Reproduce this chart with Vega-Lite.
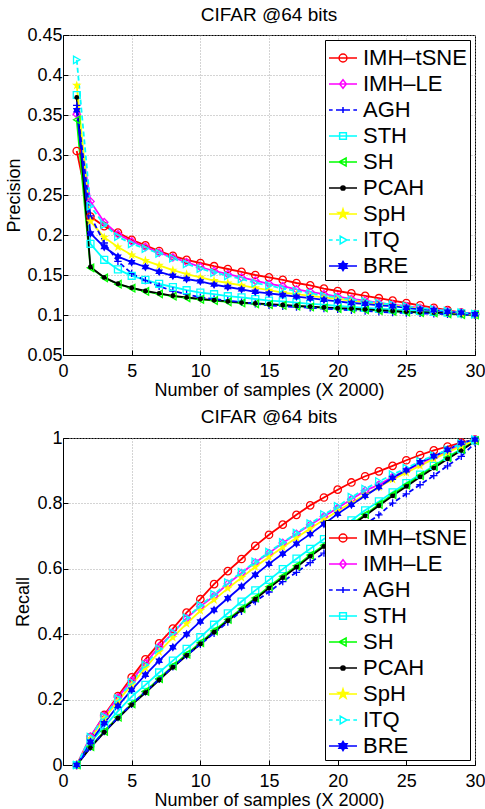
{
"$schema":"https://vega.github.io/schema/vega-lite/v6.json",
"background":"white",
"padding":{"left":5,"top":5,"right":0,"bottom":0},
"config":{
 "font":"Liberation Sans",
 "view":{"stroke":"black","strokeWidth":1},
 "axis":{"labelFont":"Liberation Sans","labelFontSize":18,"labelColor":"black","titleFont":"Liberation Sans","titleFontSize":18,"titleFontWeight":"normal","titleColor":"black","domainColor":"black","tickColor":"black","tickSize":-5,"labelPadding":9,"grid":true,"gridColor":"#a8a8a8","gridDash":[1,2],"gridOpacity":1,"labelFlush":false,"labelOverlap":false},
 "axisX":{"titlePadding":1,"labelPadding":12},
 "axisY":{"titlePadding":3,"labelPadding":6},
 "title":{"font":"Liberation Sans","fontSize":19,"fontWeight":"normal","color":"black","anchor":"middle"},
 "legend":{"labelFont":"Liberation Sans","labelFontSize":22,"labelColor":"black","symbolSize":784,"padding":3,"rowPadding":0,"labelOffset":5,"strokeColor":"black","fillColor":"white","labelLimit":0,"symbolStrokeWidth":1.5,"symbolOpacity":1}
},
"data":{"values":[
{"m":"IMH–tSNE","x":1,"p":0.305,"r":0},{"m":"IMH–tSNE","x":2,"p":0.223,"r":0.085},{"m":"IMH–tSNE","x":3,"p":0.211,"r":0.153},{"m":"IMH–tSNE","x":4,"p":0.203,"r":0.211},{"m":"IMH–tSNE","x":5,"p":0.194,"r":0.268},{"m":"IMH–tSNE","x":6,"p":0.187,"r":0.323},{"m":"IMH–tSNE","x":7,"p":0.18,"r":0.372},{"m":"IMH–tSNE","x":8,"p":0.174,"r":0.417},{"m":"IMH–tSNE","x":9,"p":0.169,"r":0.466},{"m":"IMH–tSNE","x":10,"p":0.165,"r":0.507},{"m":"IMH–tSNE","x":11,"p":0.161,"r":0.553},{"m":"IMH–tSNE","x":12,"p":0.1575,"r":0.593},{"m":"IMH–tSNE","x":13,"p":0.154,"r":0.63},{"m":"IMH–tSNE","x":14,"p":0.15,"r":0.67},{"m":"IMH–tSNE","x":15,"p":0.147,"r":0.704},{"m":"IMH–tSNE","x":16,"p":0.144,"r":0.735},{"m":"IMH–tSNE","x":17,"p":0.14,"r":0.765},{"m":"IMH–tSNE","x":18,"p":0.137,"r":0.794},{"m":"IMH–tSNE","x":19,"p":0.133,"r":0.818},{"m":"IMH–tSNE","x":20,"p":0.13,"r":0.842},{"m":"IMH–tSNE","x":21,"p":0.127,"r":0.864},{"m":"IMH–tSNE","x":22,"p":0.124,"r":0.883},{"m":"IMH–tSNE","x":23,"p":0.121,"r":0.898},{"m":"IMH–tSNE","x":24,"p":0.118,"r":0.915},{"m":"IMH–tSNE","x":25,"p":0.115,"r":0.932},{"m":"IMH–tSNE","x":26,"p":0.112,"r":0.948},{"m":"IMH–tSNE","x":27,"p":0.109,"r":0.962},{"m":"IMH–tSNE","x":28,"p":0.106,"r":0.974},{"m":"IMH–tSNE","x":29,"p":0.103,"r":0.986},{"m":"IMH–tSNE","x":30,"p":0.101,"r":0.995},
{"m":"IMH–LE","x":1,"p":0.351,"r":0},{"m":"IMH–LE","x":2,"p":0.242,"r":0.087},{"m":"IMH–LE","x":3,"p":0.216,"r":0.15},{"m":"IMH–LE","x":4,"p":0.201,"r":0.207},{"m":"IMH–LE","x":5,"p":0.192,"r":0.258},{"m":"IMH–LE","x":6,"p":0.185,"r":0.311},{"m":"IMH–LE","x":7,"p":0.178,"r":0.362},{"m":"IMH–LE","x":8,"p":0.172,"r":0.403},{"m":"IMH–LE","x":9,"p":0.166,"r":0.449},{"m":"IMH–LE","x":10,"p":0.16,"r":0.485},{"m":"IMH–LE","x":11,"p":0.155,"r":0.517},{"m":"IMH–LE","x":12,"p":0.151,"r":0.554},{"m":"IMH–LE","x":13,"p":0.147,"r":0.587},{"m":"IMH–LE","x":14,"p":0.143,"r":0.619},{"m":"IMH–LE","x":15,"p":0.139,"r":0.648},{"m":"IMH–LE","x":16,"p":0.136,"r":0.679},{"m":"IMH–LE","x":17,"p":0.132,"r":0.707},{"m":"IMH–LE","x":18,"p":0.129,"r":0.735},{"m":"IMH–LE","x":19,"p":0.126,"r":0.76},{"m":"IMH–LE","x":20,"p":0.123,"r":0.786},{"m":"IMH–LE","x":21,"p":0.12,"r":0.813},{"m":"IMH–LE","x":22,"p":0.118,"r":0.839},{"m":"IMH–LE","x":23,"p":0.115,"r":0.857},{"m":"IMH–LE","x":24,"p":0.113,"r":0.881},{"m":"IMH–LE","x":25,"p":0.111,"r":0.901},{"m":"IMH–LE","x":26,"p":0.109,"r":0.921},{"m":"IMH–LE","x":27,"p":0.107,"r":0.942},{"m":"IMH–LE","x":28,"p":0.105,"r":0.959},{"m":"IMH–LE","x":29,"p":0.103,"r":0.98},{"m":"IMH–LE","x":30,"p":0.101,"r":0.995},
{"m":"AGH","x":1,"p":0.362,"r":0},{"m":"AGH","x":2,"p":0.224,"r":0.055},{"m":"AGH","x":3,"p":0.19,"r":0.102},{"m":"AGH","x":4,"p":0.167,"r":0.145},{"m":"AGH","x":5,"p":0.152,"r":0.186},{"m":"AGH","x":6,"p":0.143,"r":0.224},{"m":"AGH","x":7,"p":0.136,"r":0.262},{"m":"AGH","x":8,"p":0.13,"r":0.3},{"m":"AGH","x":9,"p":0.126,"r":0.335},{"m":"AGH","x":10,"p":0.122,"r":0.369},{"m":"AGH","x":11,"p":0.12,"r":0.403},{"m":"AGH","x":12,"p":0.118,"r":0.437},{"m":"AGH","x":13,"p":0.116,"r":0.47},{"m":"AGH","x":14,"p":0.114,"r":0.5},{"m":"AGH","x":15,"p":0.112,"r":0.529},{"m":"AGH","x":16,"p":0.111,"r":0.561},{"m":"AGH","x":17,"p":0.11,"r":0.589},{"m":"AGH","x":18,"p":0.109,"r":0.619},{"m":"AGH","x":19,"p":0.108,"r":0.648},{"m":"AGH","x":20,"p":0.107,"r":0.679},{"m":"AGH","x":21,"p":0.106,"r":0.709},{"m":"AGH","x":22,"p":0.105,"r":0.735},{"m":"AGH","x":23,"p":0.104,"r":0.765},{"m":"AGH","x":24,"p":0.103,"r":0.801},{"m":"AGH","x":25,"p":0.1025,"r":0.829},{"m":"AGH","x":26,"p":0.102,"r":0.857},{"m":"AGH","x":27,"p":0.1015,"r":0.885},{"m":"AGH","x":28,"p":0.101,"r":0.915},{"m":"AGH","x":29,"p":0.1005,"r":0.944},{"m":"AGH","x":30,"p":0.1,"r":0.985},
{"m":"STH","x":1,"p":0.375,"r":0},{"m":"STH","x":2,"p":0.189,"r":0.068},{"m":"STH","x":3,"p":0.169,"r":0.117},{"m":"STH","x":4,"p":0.157,"r":0.165},{"m":"STH","x":5,"p":0.149,"r":0.209},{"m":"STH","x":6,"p":0.144,"r":0.245},{"m":"STH","x":7,"p":0.139,"r":0.283},{"m":"STH","x":8,"p":0.135,"r":0.319},{"m":"STH","x":9,"p":0.131,"r":0.355},{"m":"STH","x":10,"p":0.128,"r":0.391},{"m":"STH","x":11,"p":0.126,"r":0.429},{"m":"STH","x":12,"p":0.1235,"r":0.464},{"m":"STH","x":13,"p":0.122,"r":0.5},{"m":"STH","x":14,"p":0.12,"r":0.534},{"m":"STH","x":15,"p":0.118,"r":0.566},{"m":"STH","x":16,"p":0.117,"r":0.599},{"m":"STH","x":17,"p":0.1155,"r":0.631},{"m":"STH","x":18,"p":0.114,"r":0.661},{"m":"STH","x":19,"p":0.113,"r":0.691},{"m":"STH","x":20,"p":0.1115,"r":0.719},{"m":"STH","x":21,"p":0.11,"r":0.748},{"m":"STH","x":22,"p":0.109,"r":0.779},{"m":"STH","x":23,"p":0.108,"r":0.806},{"m":"STH","x":24,"p":0.107,"r":0.834},{"m":"STH","x":25,"p":0.106,"r":0.862},{"m":"STH","x":26,"p":0.105,"r":0.888},{"m":"STH","x":27,"p":0.104,"r":0.915},{"m":"STH","x":28,"p":0.103,"r":0.942},{"m":"STH","x":29,"p":0.102,"r":0.966},{"m":"STH","x":30,"p":0.101,"r":0.993},
{"m":"SH","x":1,"p":0.344,"r":0},{"m":"SH","x":2,"p":0.159,"r":0.056},{"m":"SH","x":3,"p":0.1465,"r":0.103},{"m":"SH","x":4,"p":0.1385,"r":0.146},{"m":"SH","x":5,"p":0.1335,"r":0.187},{"m":"SH","x":6,"p":0.1295,"r":0.225},{"m":"SH","x":7,"p":0.1265,"r":0.264},{"m":"SH","x":8,"p":0.1235,"r":0.303},{"m":"SH","x":9,"p":0.1215,"r":0.339},{"m":"SH","x":10,"p":0.1195,"r":0.374},{"m":"SH","x":11,"p":0.118,"r":0.41},{"m":"SH","x":12,"p":0.1165,"r":0.445},{"m":"SH","x":13,"p":0.115,"r":0.478},{"m":"SH","x":14,"p":0.114,"r":0.511},{"m":"SH","x":15,"p":0.113,"r":0.545},{"m":"SH","x":16,"p":0.112,"r":0.577},{"m":"SH","x":17,"p":0.111,"r":0.609},{"m":"SH","x":18,"p":0.11,"r":0.642},{"m":"SH","x":19,"p":0.109,"r":0.672},{"m":"SH","x":20,"p":0.108,"r":0.703},{"m":"SH","x":21,"p":0.1075,"r":0.736},{"m":"SH","x":22,"p":0.1065,"r":0.766},{"m":"SH","x":23,"p":0.1055,"r":0.797},{"m":"SH","x":24,"p":0.1045,"r":0.827},{"m":"SH","x":25,"p":0.1035,"r":0.856},{"m":"SH","x":26,"p":0.103,"r":0.885},{"m":"SH","x":27,"p":0.1025,"r":0.912},{"m":"SH","x":28,"p":0.1015,"r":0.94},{"m":"SH","x":29,"p":0.1005,"r":0.965},{"m":"SH","x":30,"p":0.1,"r":0.992},
{"m":"PCAH","x":1,"p":0.372,"r":0},{"m":"PCAH","x":2,"p":0.16,"r":0.053},{"m":"PCAH","x":3,"p":0.147,"r":0.1},{"m":"PCAH","x":4,"p":0.139,"r":0.143},{"m":"PCAH","x":5,"p":0.134,"r":0.184},{"m":"PCAH","x":6,"p":0.13,"r":0.221},{"m":"PCAH","x":7,"p":0.127,"r":0.26},{"m":"PCAH","x":8,"p":0.124,"r":0.299},{"m":"PCAH","x":9,"p":0.122,"r":0.335},{"m":"PCAH","x":10,"p":0.12,"r":0.37},{"m":"PCAH","x":11,"p":0.1185,"r":0.406},{"m":"PCAH","x":12,"p":0.117,"r":0.441},{"m":"PCAH","x":13,"p":0.1155,"r":0.474},{"m":"PCAH","x":14,"p":0.1145,"r":0.507},{"m":"PCAH","x":15,"p":0.1135,"r":0.541},{"m":"PCAH","x":16,"p":0.1125,"r":0.573},{"m":"PCAH","x":17,"p":0.1115,"r":0.605},{"m":"PCAH","x":18,"p":0.1105,"r":0.638},{"m":"PCAH","x":19,"p":0.1095,"r":0.668},{"m":"PCAH","x":20,"p":0.1085,"r":0.699},{"m":"PCAH","x":21,"p":0.108,"r":0.732},{"m":"PCAH","x":22,"p":0.107,"r":0.762},{"m":"PCAH","x":23,"p":0.106,"r":0.793},{"m":"PCAH","x":24,"p":0.105,"r":0.823},{"m":"PCAH","x":25,"p":0.104,"r":0.852},{"m":"PCAH","x":26,"p":0.1035,"r":0.881},{"m":"PCAH","x":27,"p":0.103,"r":0.908},{"m":"PCAH","x":28,"p":0.102,"r":0.936},{"m":"PCAH","x":29,"p":0.101,"r":0.962},{"m":"PCAH","x":30,"p":0.1005,"r":0.99},
{"m":"SpH","x":1,"p":0.387,"r":0},{"m":"SpH","x":2,"p":0.217,"r":0.08},{"m":"SpH","x":3,"p":0.197,"r":0.142},{"m":"SpH","x":4,"p":0.185,"r":0.196},{"m":"SpH","x":5,"p":0.175,"r":0.245},{"m":"SpH","x":6,"p":0.168,"r":0.297},{"m":"SpH","x":7,"p":0.162,"r":0.346},{"m":"SpH","x":8,"p":0.156,"r":0.39},{"m":"SpH","x":9,"p":0.151,"r":0.432},{"m":"SpH","x":10,"p":0.147,"r":0.472},{"m":"SpH","x":11,"p":0.143,"r":0.505},{"m":"SpH","x":12,"p":0.14,"r":0.54},{"m":"SpH","x":13,"p":0.137,"r":0.573},{"m":"SpH","x":14,"p":0.134,"r":0.606},{"m":"SpH","x":15,"p":0.131,"r":0.636},{"m":"SpH","x":16,"p":0.128,"r":0.666},{"m":"SpH","x":17,"p":0.126,"r":0.695},{"m":"SpH","x":18,"p":0.124,"r":0.723},{"m":"SpH","x":19,"p":0.122,"r":0.75},{"m":"SpH","x":20,"p":0.12,"r":0.777},{"m":"SpH","x":21,"p":0.118,"r":0.802},{"m":"SpH","x":22,"p":0.116,"r":0.826},{"m":"SpH","x":23,"p":0.114,"r":0.85},{"m":"SpH","x":24,"p":0.112,"r":0.873},{"m":"SpH","x":25,"p":0.11,"r":0.894},{"m":"SpH","x":26,"p":0.108,"r":0.915},{"m":"SpH","x":27,"p":0.106,"r":0.936},{"m":"SpH","x":28,"p":0.104,"r":0.956},{"m":"SpH","x":29,"p":0.102,"r":0.975},{"m":"SpH","x":30,"p":0.1005,"r":0.993},
{"m":"ITQ","x":1,"p":0.419,"r":0},{"m":"ITQ","x":2,"p":0.236,"r":0.085},{"m":"ITQ","x":3,"p":0.213,"r":0.148},{"m":"ITQ","x":4,"p":0.198,"r":0.203},{"m":"ITQ","x":5,"p":0.189,"r":0.253},{"m":"ITQ","x":6,"p":0.183,"r":0.306},{"m":"ITQ","x":7,"p":0.177,"r":0.355},{"m":"ITQ","x":8,"p":0.171,"r":0.405},{"m":"ITQ","x":9,"p":0.164,"r":0.45},{"m":"ITQ","x":10,"p":0.158,"r":0.488},{"m":"ITQ","x":11,"p":0.153,"r":0.522},{"m":"ITQ","x":12,"p":0.149,"r":0.558},{"m":"ITQ","x":13,"p":0.145,"r":0.59},{"m":"ITQ","x":14,"p":0.14,"r":0.621},{"m":"ITQ","x":15,"p":0.137,"r":0.651},{"m":"ITQ","x":16,"p":0.133,"r":0.681},{"m":"ITQ","x":17,"p":0.13,"r":0.709},{"m":"ITQ","x":18,"p":0.127,"r":0.738},{"m":"ITQ","x":19,"p":0.124,"r":0.766},{"m":"ITQ","x":20,"p":0.122,"r":0.791},{"m":"ITQ","x":21,"p":0.119,"r":0.819},{"m":"ITQ","x":22,"p":0.117,"r":0.844},{"m":"ITQ","x":23,"p":0.115,"r":0.867},{"m":"ITQ","x":24,"p":0.113,"r":0.888},{"m":"ITQ","x":25,"p":0.111,"r":0.908},{"m":"ITQ","x":26,"p":0.109,"r":0.929},{"m":"ITQ","x":27,"p":0.107,"r":0.946},{"m":"ITQ","x":28,"p":0.105,"r":0.964},{"m":"ITQ","x":29,"p":0.103,"r":0.983},{"m":"ITQ","x":30,"p":0.101,"r":0.995},
{"m":"BRE","x":1,"p":0.356,"r":0},{"m":"BRE","x":2,"p":0.202,"r":0.071},{"m":"BRE","x":3,"p":0.185,"r":0.128},{"m":"BRE","x":4,"p":0.173,"r":0.181},{"m":"BRE","x":5,"p":0.166,"r":0.23},{"m":"BRE","x":6,"p":0.16,"r":0.276},{"m":"BRE","x":7,"p":0.154,"r":0.319},{"m":"BRE","x":8,"p":0.149,"r":0.36},{"m":"BRE","x":9,"p":0.145,"r":0.4},{"m":"BRE","x":10,"p":0.142,"r":0.439},{"m":"BRE","x":11,"p":0.138,"r":0.474},{"m":"BRE","x":12,"p":0.135,"r":0.51},{"m":"BRE","x":13,"p":0.132,"r":0.546},{"m":"BRE","x":14,"p":0.129,"r":0.582},{"m":"BRE","x":15,"p":0.127,"r":0.615},{"m":"BRE","x":16,"p":0.125,"r":0.646},{"m":"BRE","x":17,"p":0.123,"r":0.677},{"m":"BRE","x":18,"p":0.121,"r":0.706},{"m":"BRE","x":19,"p":0.119,"r":0.737},{"m":"BRE","x":20,"p":0.117,"r":0.768},{"m":"BRE","x":21,"p":0.115,"r":0.796},{"m":"BRE","x":22,"p":0.114,"r":0.823},{"m":"BRE","x":23,"p":0.112,"r":0.85},{"m":"BRE","x":24,"p":0.111,"r":0.878},{"m":"BRE","x":25,"p":0.109,"r":0.901},{"m":"BRE","x":26,"p":0.107,"r":0.926},{"m":"BRE","x":27,"p":0.106,"r":0.944},{"m":"BRE","x":28,"p":0.104,"r":0.964},{"m":"BRE","x":29,"p":0.103,"r":0.985},{"m":"BRE","x":30,"p":0.101,"r":0.995}
]},
"columns":1,
"spacing":7,
"resolve":{"scale":{"x":"independent","y":"independent","color":"independent","shape":"independent","fill":"independent"}},
"concat":[
{
 "width":412,"height":320,
 "title":{"text":"CIFAR @64 bits","offset":1},
 "encoding":{
  "x":{"field":"x","type":"quantitative","scale":{"domain":[0,30],"nice":false},"axis":{"values":[0,5,10,15,20,25,30],"title":"Number of samples (X 2000)"}},
  "y":{"field":"p","type":"quantitative","scale":{"domain":[0.05,0.45],"nice":false,"zero":false},"axis":{"values":[0.05,0.1,0.15,0.2,0.25,0.3,0.35,0.4,0.45],"format":".2~f","title":"Precision"}}
 },
 "layer":[
  {"transform":[{"filter":"datum.m !== 'AGH' && datum.m !== 'ITQ'"}],"mark":{"type":"line","strokeWidth":1.8},
   "encoding":{"color":{"field":"m","type":"nominal","scale":{"domain":["IMH–tSNE","IMH–LE","AGH","STH","SH","PCAH","SpH","ITQ","BRE"],"range":["#ff0000","#ff00ff","#0000ff","#00ffff","#00ff00","#000000","#ffff00","#00ffff","#0000ff"]},"legend":{"title":null,"orient":"top-right","offset":5}}}},
  {"transform":[{"filter":"datum.m === 'AGH' || datum.m === 'ITQ'"}],"mark":{"type":"line","strokeWidth":1.8,"strokeDash":[5,3]},
   "encoding":{"color":{"field":"m","type":"nominal","scale":{"domain":["IMH–tSNE","IMH–LE","AGH","STH","SH","PCAH","SpH","ITQ","BRE"],"range":["#ff0000","#ff00ff","#0000ff","#00ffff","#00ff00","#000000","#ffff00","#00ffff","#0000ff"]},"legend":{"title":null,"orient":"top-right","offset":5}}}},
  {"transform":[{"filter":"datum.m === 'IMH–tSNE'"}],"mark":{"type":"point","shape":"circle","color":"#ff0000","filled":false,"size":55,"strokeWidth":1.3,"opacity":1}},
  {"transform":[{"filter":"datum.m === 'IMH–LE'"}],"mark":{"type":"point","shape":"diamond","color":"#ff00ff","filled":false,"size":55,"strokeWidth":1.3,"opacity":1}},
  {"transform":[{"filter":"datum.m === 'AGH'"}],"mark":{"type":"point","shape":"M-1,0L1,0M0,-1L0,1","color":"#0000ff","filled":false,"size":55,"strokeWidth":1.3,"opacity":1}},
  {"transform":[{"filter":"datum.m === 'STH'"}],"mark":{"type":"point","shape":"square","color":"#00ffff","filled":false,"size":48,"strokeWidth":1.3,"opacity":1}},
  {"transform":[{"filter":"datum.m === 'SH'"}],"mark":{"type":"point","shape":"triangle-left","color":"#00ff00","filled":false,"size":55,"strokeWidth":1.3,"opacity":1}},
  {"transform":[{"filter":"datum.m === 'PCAH'"}],"mark":{"type":"point","shape":"circle","color":"#000000","filled":true,"size":24,"opacity":1}},
  {"transform":[{"filter":"datum.m === 'SpH'"}],"mark":{"type":"point","shape":"M0,-1.35L0.303,-0.417L1.284,-0.417L0.49,0.159L0.794,1.092L0,0.516L-0.794,1.092L-0.49,0.159L-1.284,-0.417L-0.303,-0.417Z","color":"#ffff00","filled":true,"size":55,"opacity":1}},
  {"transform":[{"filter":"datum.m === 'ITQ'"}],"mark":{"type":"point","shape":"triangle-right","color":"#00ffff","filled":false,"size":55,"strokeWidth":1.3,"opacity":1}},
  {"transform":[{"filter":"datum.m === 'BRE'"}],"mark":{"type":"point","shape":"M0,-1.2L0.346,-0.6L1.039,-0.6L0.693,0L1.039,0.6L0.346,0.6L0,1.2L-0.346,0.6L-1.039,0.6L-0.693,0L-1.039,-0.6L-0.346,-0.6Z","color":"#0000ff","filled":true,"size":55,"opacity":1}},
  {"mark":{"type":"point","opacity":0,"size":784,"strokeWidth":1.5,"filled":false},
   "encoding":{
    "color":{"field":"m","type":"nominal","scale":{"domain":["IMH–tSNE","IMH–LE","AGH","STH","SH","PCAH","SpH","ITQ","BRE"],"range":["#ff0000","#ff00ff","#0000ff","#00ffff","#00ff00","#000000","#ffff00","#00ffff","#0000ff"]},"legend":{"title":null,"orient":"top-right","offset":5}},
    "shape":{"field":"m","type":"nominal","scale":{"domain":["IMH–tSNE","IMH–LE","AGH","STH","SH","PCAH","SpH","ITQ","BRE"],"range":["M-1,0L1,0M-0.28,0A0.28,0.28 0 1,1 0.28,0A0.28,0.28 0 1,1 -0.28,0","M-1,0L1,0M0,-0.3L0.24,0L0,0.3L-0.24,0Z","M-1,0L-0.74,0M-0.5,0L-0.22,0M0.22,0L0.5,0M0.74,0L1,0M-0.22,0L0.22,0M0,-0.22L0,0.22","M-1,0L1,0M-0.24,-0.24L0.24,-0.24L0.24,0.24L-0.24,0.24Z","M-1,0L1,0M-0.28,0L0.22,-0.28L0.22,0.28Z","M-1,0L1,0M-0.15,0A0.15,0.15 0 1,1 0.15,0A0.15,0.15 0 1,1 -0.15,0Z","M-1,0L1,0M0,-0.36L0.081,-0.111L0.342,-0.111L0.131,0.043L0.212,0.291L0,0.138L-0.212,0.291L-0.131,0.043L-0.342,-0.111L-0.081,-0.111Z","M-1,0L-0.74,0M-0.5,0L-0.28,0M0.3,0L0.5,0M0.74,0L1,0M-0.2,-0.28L0.28,0L-0.2,0.28Z","M-1,0L1,0M0,-0.33L0.095,-0.165L0.286,-0.165L0.19,0L0.286,0.165L0.095,0.165L0,0.33L-0.095,0.165L-0.286,0.165L-0.19,0L-0.286,-0.165L-0.095,-0.165Z"]},"legend":{"title":null,"orient":"top-right","offset":5}},
    "fill":{"field":"m","type":"nominal","scale":{"domain":["IMH–tSNE","IMH–LE","AGH","STH","SH","PCAH","SpH","ITQ","BRE"],"range":["transparent","transparent","transparent","transparent","transparent","#000000","#ffff00","transparent","#0000ff"]},"legend":{"title":null,"orient":"top-right","offset":5}}
   }}
 ]
},
{
 "width":412,"height":327,
 "title":{"text":"CIFAR @64 bits","offset":2},
 "encoding":{
  "x":{"field":"x","type":"quantitative","scale":{"domain":[0,30],"nice":false},"axis":{"values":[0,5,10,15,20,25,30],"title":"Number of samples (X 2000)"}},
  "y":{"field":"r","type":"quantitative","scale":{"domain":[0,1],"nice":false},"axis":{"values":[0,0.2,0.4,0.6,0.8,1],"format":".1~f","title":"Recall","titlePadding":4}}
 },
 "layer":[
  {"transform":[{"filter":"datum.m !== 'AGH' && datum.m !== 'ITQ'"}],"mark":{"type":"line","strokeWidth":1.8},
   "encoding":{"color":{"field":"m","type":"nominal","scale":{"domain":["IMH–tSNE","IMH–LE","AGH","STH","SH","PCAH","SpH","ITQ","BRE"],"range":["#ff0000","#ff00ff","#0000ff","#00ffff","#00ff00","#000000","#ffff00","#00ffff","#0000ff"]},"legend":{"title":null,"orient":"bottom-right","offset":5}}}},
  {"transform":[{"filter":"datum.m === 'AGH' || datum.m === 'ITQ'"}],"mark":{"type":"line","strokeWidth":1.8,"strokeDash":[5,3]},
   "encoding":{"color":{"field":"m","type":"nominal","scale":{"domain":["IMH–tSNE","IMH–LE","AGH","STH","SH","PCAH","SpH","ITQ","BRE"],"range":["#ff0000","#ff00ff","#0000ff","#00ffff","#00ff00","#000000","#ffff00","#00ffff","#0000ff"]},"legend":{"title":null,"orient":"bottom-right","offset":5}}}},
  {"transform":[{"filter":"datum.m === 'IMH–tSNE'"}],"mark":{"type":"point","shape":"circle","color":"#ff0000","filled":false,"size":55,"strokeWidth":1.3,"opacity":1}},
  {"transform":[{"filter":"datum.m === 'IMH–LE'"}],"mark":{"type":"point","shape":"diamond","color":"#ff00ff","filled":false,"size":55,"strokeWidth":1.3,"opacity":1}},
  {"transform":[{"filter":"datum.m === 'AGH'"}],"mark":{"type":"point","shape":"M-1,0L1,0M0,-1L0,1","color":"#0000ff","filled":false,"size":55,"strokeWidth":1.3,"opacity":1}},
  {"transform":[{"filter":"datum.m === 'STH'"}],"mark":{"type":"point","shape":"square","color":"#00ffff","filled":false,"size":48,"strokeWidth":1.3,"opacity":1}},
  {"transform":[{"filter":"datum.m === 'SH'"}],"mark":{"type":"point","shape":"triangle-left","color":"#00ff00","filled":false,"size":55,"strokeWidth":1.3,"opacity":1}},
  {"transform":[{"filter":"datum.m === 'PCAH'"}],"mark":{"type":"point","shape":"circle","color":"#000000","filled":true,"size":24,"opacity":1}},
  {"transform":[{"filter":"datum.m === 'SpH'"}],"mark":{"type":"point","shape":"M0,-1.35L0.303,-0.417L1.284,-0.417L0.49,0.159L0.794,1.092L0,0.516L-0.794,1.092L-0.49,0.159L-1.284,-0.417L-0.303,-0.417Z","color":"#ffff00","filled":true,"size":55,"opacity":1}},
  {"transform":[{"filter":"datum.m === 'ITQ'"}],"mark":{"type":"point","shape":"triangle-right","color":"#00ffff","filled":false,"size":55,"strokeWidth":1.3,"opacity":1}},
  {"transform":[{"filter":"datum.m === 'BRE'"}],"mark":{"type":"point","shape":"M0,-1.2L0.346,-0.6L1.039,-0.6L0.693,0L1.039,0.6L0.346,0.6L0,1.2L-0.346,0.6L-1.039,0.6L-0.693,0L-1.039,-0.6L-0.346,-0.6Z","color":"#0000ff","filled":true,"size":55,"opacity":1}},
  {"mark":{"type":"point","opacity":0,"size":784,"strokeWidth":1.5,"filled":false},
   "encoding":{
    "color":{"field":"m","type":"nominal","scale":{"domain":["IMH–tSNE","IMH–LE","AGH","STH","SH","PCAH","SpH","ITQ","BRE"],"range":["#ff0000","#ff00ff","#0000ff","#00ffff","#00ff00","#000000","#ffff00","#00ffff","#0000ff"]},"legend":{"title":null,"orient":"bottom-right","offset":5}},
    "shape":{"field":"m","type":"nominal","scale":{"domain":["IMH–tSNE","IMH–LE","AGH","STH","SH","PCAH","SpH","ITQ","BRE"],"range":["M-1,0L1,0M-0.28,0A0.28,0.28 0 1,1 0.28,0A0.28,0.28 0 1,1 -0.28,0","M-1,0L1,0M0,-0.3L0.24,0L0,0.3L-0.24,0Z","M-1,0L-0.74,0M-0.5,0L-0.22,0M0.22,0L0.5,0M0.74,0L1,0M-0.22,0L0.22,0M0,-0.22L0,0.22","M-1,0L1,0M-0.24,-0.24L0.24,-0.24L0.24,0.24L-0.24,0.24Z","M-1,0L1,0M-0.28,0L0.22,-0.28L0.22,0.28Z","M-1,0L1,0M-0.15,0A0.15,0.15 0 1,1 0.15,0A0.15,0.15 0 1,1 -0.15,0Z","M-1,0L1,0M0,-0.36L0.081,-0.111L0.342,-0.111L0.131,0.043L0.212,0.291L0,0.138L-0.212,0.291L-0.131,0.043L-0.342,-0.111L-0.081,-0.111Z","M-1,0L-0.74,0M-0.5,0L-0.28,0M0.3,0L0.5,0M0.74,0L1,0M-0.2,-0.28L0.28,0L-0.2,0.28Z","M-1,0L1,0M0,-0.33L0.095,-0.165L0.286,-0.165L0.19,0L0.286,0.165L0.095,0.165L0,0.33L-0.095,0.165L-0.286,0.165L-0.19,0L-0.286,-0.165L-0.095,-0.165Z"]},"legend":{"title":null,"orient":"bottom-right","offset":5}},
    "fill":{"field":"m","type":"nominal","scale":{"domain":["IMH–tSNE","IMH–LE","AGH","STH","SH","PCAH","SpH","ITQ","BRE"],"range":["transparent","transparent","transparent","transparent","transparent","#000000","#ffff00","transparent","#0000ff"]},"legend":{"title":null,"orient":"bottom-right","offset":5}}
   }}
 ]
}
]
}
